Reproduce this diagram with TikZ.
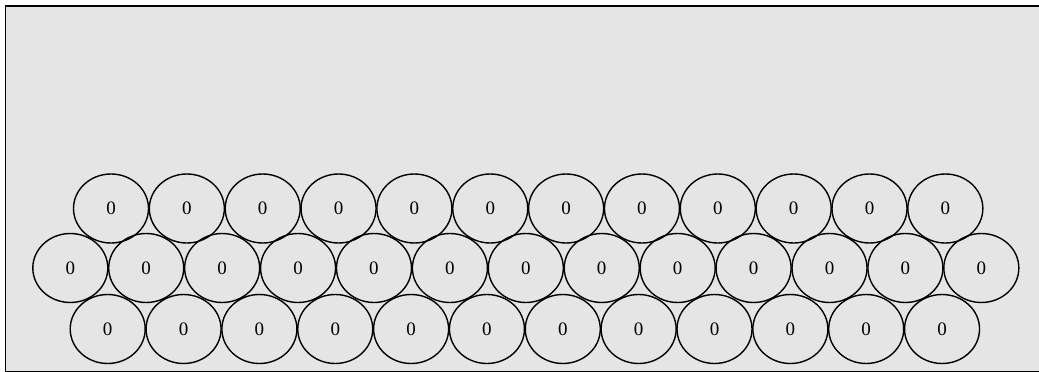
\documentclass[tikz,border=0pt]{standalone}
\usepackage{fontspec}
\setmainfont{Liberation Serif}
\usetikzlibrary{shapes.geometric}
\definecolor{bg}{HTML}{E5E5E5}
\begin{document}
\begin{tikzpicture}[x=1pt,y=-1pt,
  cell/.style={ellipse,draw=black,line width=1.4pt,minimum width=75pt,minimum height=69pt,inner sep=0pt,font=\fontsize{19}{19}\selectfont}]
\useasboundingbox (0,0) rectangle (1039,372);
\begin{scope}
\clip (0,0) rectangle (1039,372);
\draw[fill=bg,line width=1.8pt] (5.5,6) rectangle (1050,371.8);
\end{scope}
\foreach \i in {0,...,11} \node[cell] (a\i) at ({111+75.85*\i},208.5) {0};
\foreach \i in {0,...,12} \node[cell] (b\i) at ({70.3+75.92*\i},268) {0};
\foreach \i in {0,...,11} \node[cell] (c\i) at ({107.7+75.85*\i},329) {0};
\end{tikzpicture}
\end{document}
